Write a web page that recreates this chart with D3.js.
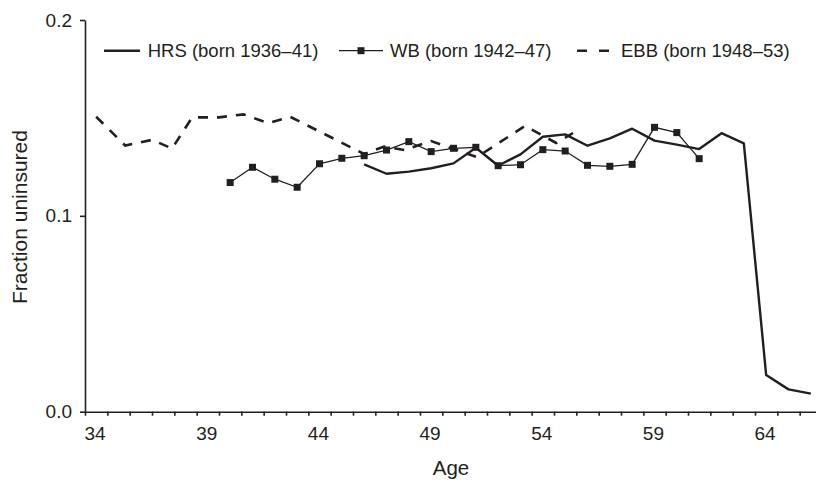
<!DOCTYPE html>
<html>
<head>
<meta charset="utf-8">
<script src="https://cdn.jsdelivr.net/npm/d3@7"></script>
<style>
  body { margin: 0; background: #fff; }
  svg { font-family: 'Liberation Sans', Arial, Helvetica, sans-serif; }
</style>
</head>
<body>
<div id="visual"></div>
<script>
// Ages are plotted at mid-year
const hrsAges = [46.5, 47.5, 48.5, 49.5, 50.5, 51.5, 52.5, 53.5, 54.5, 55.5, 56.5,
  57.5, 58.5, 59.5, 60.5, 61.5, 62.5, 63.5, 64.5, 65.5, 66.5];
const hrsValues = [0.1263, 0.1215, 0.1226, 0.1243, 0.1268, 0.1348, 0.1256, 0.1314, 0.1404, 0.1416, 0.1358,
  0.1396, 0.1445, 0.1384, 0.1364, 0.1341, 0.1422, 0.137, 0.0187, 0.0114, 0.0092];

const wbAges = [40.5, 41.5, 42.5, 43.5, 44.5, 45.5, 46.5, 47.5, 48.5, 49.5, 50.5,
  51.5, 52.5, 53.5, 54.5, 55.5, 56.5, 57.5, 58.5, 59.5, 60.5, 61.5];
const wbValues = [0.117, 0.1248, 0.1187, 0.1146, 0.1266, 0.1294, 0.1307, 0.1336, 0.1379, 0.1328, 0.1345,
  0.135, 0.1256, 0.1261, 0.1338, 0.1331, 0.1258, 0.1253, 0.1263, 0.1452, 0.1425, 0.1292];

const ebbAges = [34.5, 35.8, 37.0, 37.9, 38.8, 40.0, 41.1, 42.2, 43.2, 46.5, 47.4,
  48.3, 49.5, 51.55, 53.7, 55.1, 55.85];
const ebbValues = [0.1506, 0.1359, 0.1388, 0.1344, 0.1503, 0.1503, 0.1518, 0.1474, 0.1505, 0.1316, 0.1354,
  0.1336, 0.1382, 0.13, 0.1459, 0.1372, 0.1423];

const seriesNames = ['HRS (born 1936–41)', 'WB (born 1942–47)', 'EBB (born 1948–53)'];
const xTicks = d3.range(34, 67);
const xTickLabels = [34, 39, 44, 49, 54, 59, 64];
const yTicks = [0, 0.1, 0.2];

const ink = '#231f20';

function render() {
  const width = 816;
  const height = 480;

  const x = d3.scaleLinear().domain([34, 67]).range([85, 822]);
  const y = d3.scaleLinear().domain([0, 0.2]).range([411.7, 20]);

  const svg = d3.select('#visual').append('svg')
    .attr('width', width)
    .attr('height', height);

  // x axis, a tick for every year but labels only every five
  const xAxis = svg.append('g')
    .attr('transform', `translate(0,${y(0)})`)
    .call(d3.axisBottom(x)
      .tickValues(xTicks)
      .tickSize(4)
      .tickSizeOuter(0)
      .tickPadding(11)
      .tickFormat(d => (xTickLabels.includes(d) ? `${d}` : '')));
  xAxis.selectAll('text')
    .attr('text-anchor', 'start')
    .attr('x', -1)
    .style('font-size', '19px')
    .style('fill', ink);

  const yAxis = svg.append('g')
    .attr('transform', `translate(${x(34)},0)`)
    .call(d3.axisLeft(y)
      .tickValues(yTicks)
      .tickSize(5)
      .tickSizeOuter(0)
      .tickPadding(8)
      .tickFormat(d3.format('.1f')));
  yAxis.selectAll('text')
    .style('font-size', '19px')
    .style('fill', ink);

  svg.selectAll('.domain, .tick line')
    .attr('stroke', ink)
    .attr('stroke-width', 1.6);

  svg.append('text')
    .attr('x', 451)
    .attr('y', 475)
    .attr('text-anchor', 'middle')
    .style('font-size', '20.5px')
    .style('fill', ink)
    .text('Age');

  svg.append('text')
    .attr('transform', 'translate(27,217) rotate(-90)')
    .attr('text-anchor', 'middle')
    .style('font-size', '21px')
    .style('fill', ink)
    .text('Fraction uninsured');

  const line = d3.line()
    .x(d => x(d[0]))
    .y(d => y(d[1]));

  svg.append('path')
    .datum(d3.zip(ebbAges, ebbValues))
    .attr('d', line)
    .attr('fill', 'none')
    .attr('stroke', ink)
    .attr('stroke-width', 2.6)
    .attr('stroke-dasharray', '10,9');

  svg.append('path')
    .datum(d3.zip(hrsAges, hrsValues))
    .attr('d', line)
    .attr('fill', 'none')
    .attr('stroke', ink)
    .attr('stroke-width', 2.4)
    .attr('stroke-linejoin', 'round');

  const wb = d3.zip(wbAges, wbValues);
  svg.append('path')
    .datum(wb)
    .attr('d', line)
    .attr('fill', 'none')
    .attr('stroke', ink)
    .attr('stroke-width', 1.3);

  svg.selectAll('.wb-mark')
    .data(wb)
    .enter().append('rect')
    .attr('class', 'wb-mark')
    .attr('x', d => x(d[0]) - 3.5)
    .attr('y', d => y(d[1]) - 3.5)
    .attr('width', 7)
    .attr('height', 7)
    .attr('fill', ink);

  // legend
  const legendY = 50.7;
  const legend = svg.append('g');

  legend.append('line')
    .attr('x1', 104).attr('x2', 140)
    .attr('y1', legendY).attr('y2', legendY)
    .attr('stroke', ink)
    .attr('stroke-width', 2.4);

  legend.append('line')
    .attr('x1', 339).attr('x2', 383)
    .attr('y1', legendY).attr('y2', legendY)
    .attr('stroke', ink)
    .attr('stroke-width', 1.3);
  legend.append('rect')
    .attr('x', 361 - 3.5).attr('y', legendY - 3.5)
    .attr('width', 7).attr('height', 7)
    .attr('fill', ink);

  legend.append('line')
    .attr('x1', 577).attr('x2', 609)
    .attr('y1', legendY).attr('y2', legendY)
    .attr('stroke', ink)
    .attr('stroke-width', 2.6)
    .attr('stroke-dasharray', '10,12');

  const textX = [147.7, 390, 621];
  legend.selectAll('.legend-label')
    .data(seriesNames)
    .enter().append('text')
    .attr('class', 'legend-label')
    .attr('x', (d, i) => textX[i])
    .attr('y', 56.5)
    .style('font-size', '18.5px')
    .style('fill', ink)
    .text(d => d);
}

render();
</script>
</body>
</html>
